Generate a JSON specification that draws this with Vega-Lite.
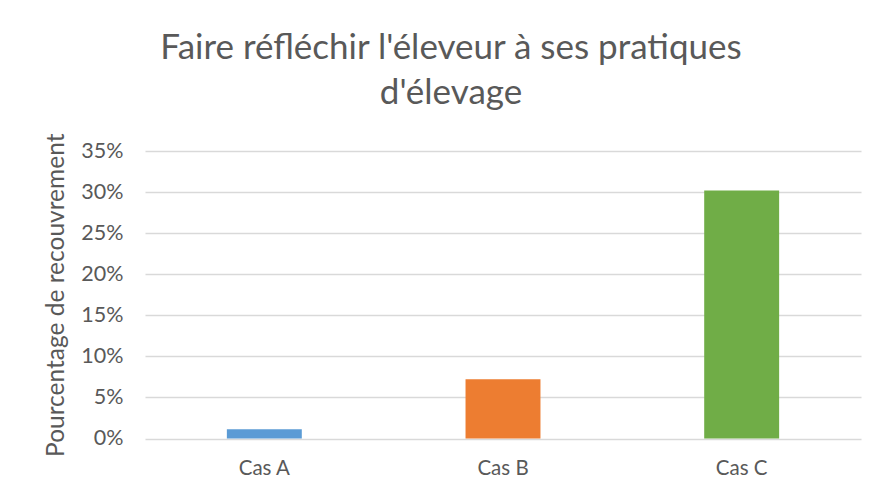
{
  "$schema": "https://vega.github.io/schema/vega-lite/v6.json",
  "autosize": {"type": "none"},
  "padding": {"left": 145, "top": 151, "right": 16, "bottom": 59},
  "width": 716,
  "height": 287.5,
  "background": "white",
  "title": {
    "text": ["Faire réfléchir l'éleveur à ses pratiques", "d'élevage"],
    "font": "Lato",
    "fontSize": 35,
    "fontWeight": "normal",
    "color": "#595959",
    "lineHeight": 45,
    "anchor": "middle",
    "dx": -52,
    "offset": 22
  },
  "data": {
    "values": [
      {"cas": "Cas A", "pct": 0.0113},
      {"cas": "Cas B", "pct": 0.072},
      {"cas": "Cas C", "pct": 0.302}
    ]
  },
  "mark": {"type": "bar"},
  "encoding": {
    "x": {
      "field": "cas",
      "type": "nominal",
      "scale": {"paddingInner": 0.686, "paddingOuter": 0.343},
      "axis": {
        "title": null,
        "labelAngle": 0,
        "ticks": false,
        "domain": false,
        "labelPadding": 20,
        "labelFont": "Lato",
        "labelFontSize": 20.5,
        "labelColor": "#595959"
      }
    },
    "y": {
      "field": "pct",
      "type": "quantitative",
      "scale": {"domain": [0, 0.35], "nice": false},
      "axis": {
        "title": "Pourcentage de recouvrement",
        "titleFont": "Lato",
        "titleFontSize": 24.5,
        "titleFontWeight": "normal",
        "titleColor": "#595959",
        "titlePadding": 12,
        "format": ".0%",
        "values": [0, 0.05, 0.1, 0.15, 0.2, 0.25, 0.3, 0.35],
        "ticks": false,
        "domain": false,
        "labelPadding": 22,
        "labelFont": "Lato",
        "labelFontSize": 21.5,
        "labelColor": "#595959",
        "grid": true,
        "gridColor": "#d9d9d9",
        "gridWidth": 1.5
      }
    },
    "color": {
      "field": "cas",
      "type": "nominal",
      "scale": {"domain": ["Cas A", "Cas B", "Cas C"], "range": ["#5B9BD5", "#ED7D31", "#70AD47"]},
      "legend": null
    }
  },
  "config": {"view": {"stroke": null}}
}
